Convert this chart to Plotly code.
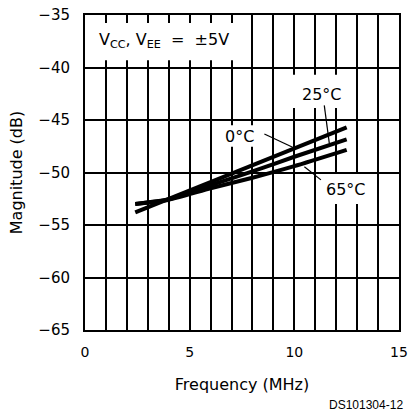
import plotly.graph_objects as go

# Data
freq_0c = [2.4, 12.5]
mag_0c = [-53.8, -45.7]

freq_25c = [2.4, 4.0, 6.0, 8.0, 10.0, 12.5]
mag_25c = [-53.0, -52.55, -51.2, -49.9, -48.5, -46.85]

freq_65c = [2.4, 4.0, 6.0, 8.0, 10.0, 12.5]
mag_65c = [-53.0, -52.6, -51.5, -50.5, -49.4, -47.85]

x_ticks = [0, 5, 10, 15]
y_ticks = [-65, -60, -55, -50, -45, -40, -35]

FONT = "DejaVu Sans"

fig = go.Figure()
for xs, ys, name in [(freq_0c, mag_0c, "0°C"), (freq_25c, mag_25c, "25°C"), (freq_65c, mag_65c, "65°C")]:
    fig.add_trace(go.Scatter(x=xs, y=ys, mode="lines", name=name,
                             line=dict(color="black", width=4, shape="spline", smoothing=0.6),
                             showlegend=False))

axis_common = dict(showline=True, linecolor="black", linewidth=2, mirror=True,
                   showgrid=True, gridcolor="black", gridwidth=1.5, automargin=False,
                   ticklabeloverflow="allow",
                   zeroline=False, ticks="", tickfont=dict(family=FONT, size=15, color="black"))

fig.update_xaxes(range=[0, 15], tickvals=x_ticks, ticklabelstandoff=8,
                 minor=dict(dtick=1, showgrid=True, gridcolor="black", gridwidth=1.5, ticks=""),
                 title=dict(text="Frequency (MHz)", font=dict(family=FONT, size=16, color="black"), standoff=20),
                 **axis_common)
fig.update_xaxes(tickfont=dict(family=FONT, size=14, color="black"))
fig.update_yaxes(range=[-65, -35], tickvals=y_ticks, ticklabelstandoff=10,
                 title=dict(text="Magnitude (dB)", font=dict(family=FONT, size=16, color="black"), standoff=12),
                 **axis_common)

# white label boxes interrupting grid lines
boxes = [
    (0.1, 7.6, -35.76, -39.3),
    (9.8, 12.8, -40.7, -43.85),
    (6.3, 8.6, -45.5, -47.55),
    (11.25, 13.7, -50.15, -53.0),
]
for x0, x1, y0, y1 in boxes:
    fig.add_shape(type="rect", x0=x0, x1=x1, y0=y0, y1=y1, xref="x", yref="y",
                  fillcolor="white", line=dict(width=0), layer="above")

# leader lines
leaders = [
    (11.43, -43.6, 11.67, -47.2),
    (8.57, -46.33, 9.92, -47.6),
    (11.27, -50.7, 10.48, -49.45),
]
for x0, y0, x1, y1 in leaders:
    fig.add_shape(type="line", x0=x0, y0=y0, x1=x1, y1=y1, xref="x", yref="y",
                  line=dict(color="black", width=1.2), layer="above")

labels = [
    (11.3, -42.6, "25°C"),
    (7.38, -46.55, "0°C"),
    (12.48, -51.65, "65°C"),
]
for x, y, t in labels:
    fig.add_annotation(x=x, y=y, text=t, showarrow=False, xref="x", yref="y",
                       font=dict(family=FONT, size=16, color="black"))

fig.add_annotation(x=0.55, y=-37.4, text="V<sub>CC</sub>, V<sub>EE</sub>  =  ±5V", showarrow=False,
                   xref="x", yref="y", xanchor="left",
                   font=dict(family=FONT, size=16, color="black"))

fig.add_annotation(x=(405 - 85) / (409 - 85 - 10), y=(415 - 405 - 85) / (415 - 15 - 85),
                   text="DS101304-12", showarrow=False, xref="paper", yref="paper",
                   font=dict(family="Liberation Sans", size=12, color="black"),
                   xanchor="right", yanchor="middle")

fig.update_layout(width=409, height=415, margin=dict(l=85, r=10, t=15, b=85, autoexpand=False),
                  plot_bgcolor="white", paper_bgcolor="white")

fig.write_html("out.html")
